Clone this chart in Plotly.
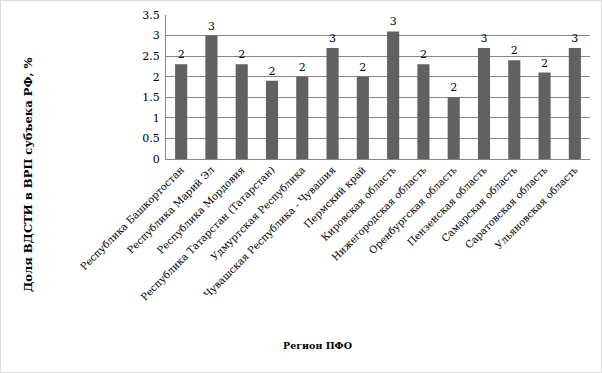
import plotly.graph_objects as go

regions = [
    "Республика Башкортостан",
    "Республика Марий Эл",
    "Республика Мордовия",
    "Республика Татарстан (Татарстан)",
    "Удмуртская Республика",
    "Чувашская Республика - Чувашия",
    "Пермский край",
    "Кировская область",
    "Нижегородская область",
    "Оренбургская область",
    "Пензенская область",
    "Самарская область",
    "Саратовская область",
    "Ульяновская область",
]
shares = [2.3, 3.0, 2.3, 1.9, 2.0, 2.7, 2.0, 3.1, 2.3, 1.5, 2.7, 2.4, 2.1, 2.7]

W, H = 602, 373
L, R, T, B = 166, 12, 15, 214
FONT = "DejaVu Serif"

fig = go.Figure(go.Bar(
    x=regions, y=shares,
    marker=dict(color="#616161", line=dict(width=0)),
    texttemplate="%{y:.0f}", textposition="outside",
    textfont=dict(family=FONT, size=11, color="black"),
    cliponaxis=False,
))

pw = W - L - R
ph = H - T - B

fig.update_layout(
    width=W, height=H,
    margin=dict(l=L, r=R, t=T, b=B),
    paper_bgcolor="white", plot_bgcolor="white",
    bargap=0.6,
    showlegend=False,
    font=dict(family=FONT, size=11, color="black"),
    xaxis=dict(
        tickangle=-45, tickfont=dict(family=FONT, size=10, color="black"),
        showline=True, linecolor="#868686", linewidth=1,
        ticks="", showgrid=False, automargin=False,
    ),
    yaxis=dict(
        range=[0, 3.5], dtick=0.5, tickformat="~g",
        tickfont=dict(family=FONT, size=11, color="black"),
        showgrid=True, gridcolor="#868686", gridwidth=1,
        showline=True, linecolor="#868686", linewidth=1,
        zeroline=False, ticks="", ticklabelstandoff=3, automargin=False,
    ),
    annotations=[
        dict(text="<b>Доля ВДСТИ в ВРП субъека РФ, %</b>", textangle=-90,
             xref="paper", yref="paper",
             x=(28 - L) / pw, y=(H - 175 - B) / ph,
             xanchor="center", yanchor="middle", showarrow=False,
             font=dict(family=FONT, size=11.6, color="black")),
        dict(text="<b>Регион ПФО</b>",
             xref="paper", yref="paper",
             x=(317 - L) / pw, y=(H - 345 - B) / ph,
             xanchor="center", yanchor="middle", showarrow=False,
             font=dict(family=FONT, size=9.5, color="black")),
    ],
    shapes=[
        dict(type="rect", xref="paper", yref="paper",
             x0=(0.5 - L) / pw, x1=(W - 0.5 - L) / pw,
             y0=(-B + 0.5) / ph, y1=(ph + T - 0.5) / ph,
             line=dict(color="#d9d9d9", width=1), layer="below"),
    ],
)

fig.write_html(
    "out.html",
    config={"displayModeBar": False},
    post_script="document.body.style.margin='0';document.body.style.overflow='hidden';",
)
